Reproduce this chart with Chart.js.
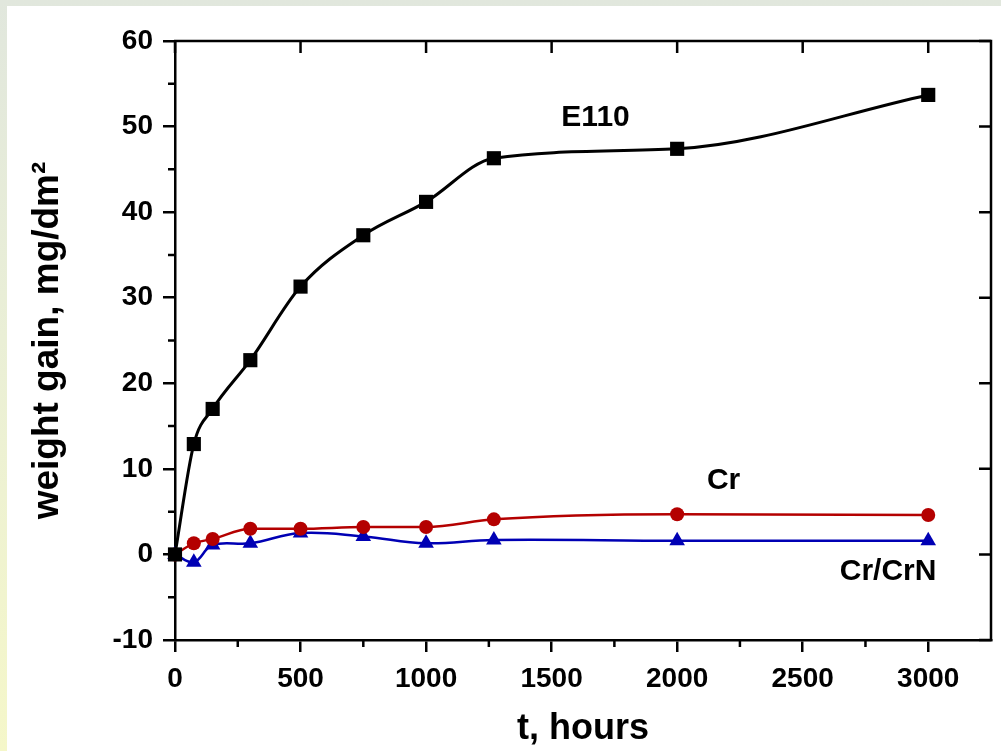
<!DOCTYPE html>
<html>
<head>
<meta charset="utf-8">
<script src="https://cdn.jsdelivr.net/npm/chart.js@4.4.1/dist/chart.umd.min.js"></script>
<style>
html, body { margin: 0; padding: 0; }
body {
    width: 1001px; height: 751px; overflow: hidden; position: relative;
    background: linear-gradient(to bottom, #e1e7dd 0%, #eaefd6 45%, #f5f7c9 100%);
}
#panel { position: absolute; left: 7px; top: 6px; right: 0; bottom: 0; background: #fff; }
#chart { position: absolute; left: 0; top: 0; }
</style>
</head>
<body>
<div id="panel"></div>
<canvas id="chart" width="1001" height="751"></canvas>
<script>
// exposure time, hours
const hours = [0, 75, 150, 300, 500, 750, 1000, 1270, 2000, 3000];
// weight gain, mg/dm2
const e110 = [0, 12.9, 17.0, 22.7, 31.3, 37.3, 41.2, 46.3, 47.4, 53.7];
const cr = [0, 1.3, 1.8, 3.0, 3.0, 3.2, 3.2, 4.1, 4.7, 4.6];
const crCrN = [0, -0.9, 1.1, 1.3, 2.5, 2.1, 1.3, 1.7, 1.6, 1.6];

const xTickValues = [0, 500, 1000, 1500, 2000, 2500, 3000];
const yTickValues = [-10, 0, 10, 20, 30, 40, 50, 60];

const seriesNames = ['E110', 'Cr', 'Cr/CrN'];
// where the series names sit, in data units (hours, mg/dm2)
const nameSpots = [[1675, 51], [2185, 8.6], [2840, -2.0]];

const FONT = '"Liberation Sans", Arial, sans-serif';

function toPoints(ys) {
    return hours.map((h, i) => ({ x: h, y: ys[i] }));
}

// top/right frame, inward ticks there, and minor outward ticks
const framePlugin = {
    id: 'frame',
    beforeDatasetsDraw(chart) {
        const ctx = chart.ctx;
        const a = chart.chartArea;
        const xs = chart.scales.x;
        const ys = chart.scales.y;
        ctx.save();
        ctx.strokeStyle = '#000';
        ctx.lineWidth = 2.5;
        ctx.lineCap = 'butt';
        ctx.beginPath();
        ctx.moveTo(a.left - 1, a.top);
        ctx.lineTo(a.right, a.top);
        ctx.lineTo(a.right, a.bottom + 1);
        ctx.stroke();

        ctx.beginPath();
        for (let v = 0; v <= 3000; v += 250) {
            const px = xs.getPixelForValue(v);
            if (v % 500 === 0) {
                ctx.moveTo(px, a.top);
                ctx.lineTo(px, a.top + 12);
            } else {
                ctx.moveTo(px, a.bottom);
                ctx.lineTo(px, a.bottom + 7);
            }
        }
        for (let v = -10; v <= 60; v += 5) {
            const py = ys.getPixelForValue(v);
            if (v % 10 === 0) {
                ctx.moveTo(a.right, py);
                ctx.lineTo(a.right - 12, py);
            } else {
                ctx.moveTo(a.left, py);
                ctx.lineTo(a.left - 7, py);
            }
        }
        ctx.stroke();
        ctx.restore();
    },
    afterDraw(chart) {
        const ctx = chart.ctx;
        const xs = chart.scales.x;
        const ys = chart.scales.y;
        ctx.save();
        ctx.fillStyle = '#000';
        ctx.font = 'bold 30px ' + FONT;
        ctx.textAlign = 'center';
        ctx.textBaseline = 'middle';
        seriesNames.forEach((name, i) => {
            ctx.fillText(name, xs.getPixelForValue(nameSpots[i][0]), ys.getPixelForValue(nameSpots[i][1]));
        });
        ctx.restore();
    }
};

new Chart(document.getElementById('chart'), {
    type: 'line',
    data: {
        datasets: [
            {
                label: seriesNames[0],
                data: toPoints(e110),
                borderColor: '#000',
                backgroundColor: '#000',
                borderWidth: 3,
                pointStyle: 'rect',
                pointRadius: 10,
                pointBorderWidth: 0,
                cubicInterpolationMode: 'monotone',
                clip: false
            },
            {
                label: seriesNames[1],
                data: toPoints(cr),
                borderColor: '#b40000',
                backgroundColor: '#b40000',
                borderWidth: 2.5,
                pointStyle: 'circle',
                pointRadius: 7,
                pointBorderWidth: 0,
                cubicInterpolationMode: 'monotone',
                clip: false
            },
            {
                label: seriesNames[2],
                data: toPoints(crCrN),
                borderColor: '#0000b4',
                backgroundColor: '#0000b4',
                borderWidth: 2.5,
                pointStyle: 'triangle',
                pointRadius: 9,
                pointBorderWidth: 0,
                tension: 0.4,
                clip: false
            }
        ]
    },
    options: {
        responsive: false,
        animation: false,
        layout: { padding: { left: 0, top: 41, right: 9, bottom: 0 } },
        plugins: {
            legend: { display: false },
            tooltip: { enabled: false }
        },
        scales: {
            x: {
                type: 'linear',
                min: 0,
                max: 3250,
                afterFit(scale) { scale.height = 111; },
                afterBuildTicks(scale) { scale.ticks = xTickValues.map(v => ({ value: v })); },
                ticks: {
                    padding: 10,
                    color: '#000',
                    font: { family: FONT, size: 28, weight: 'bold' },
                    maxRotation: 0,
                    autoSkip: false,
                    callback: v => String(v)
                },
                grid: { display: true, drawOnChartArea: false, drawTicks: true, tickLength: 12, color: '#000', lineWidth: 2.5 },
                border: { display: true, color: '#000', width: 2.5 },
                title: {
                    display: true,
                    text: 't, hours',
                    color: '#000',
                    font: { family: FONT, size: 36, weight: 'bold' },
                    padding: { top: 0, bottom: 0 }
                }
            },
            y: {
                min: -10,
                max: 60,
                afterFit(scale) { scale.width = 175; },
                afterBuildTicks(scale) { scale.ticks = yTickValues.map(v => ({ value: v })); },
                ticks: {
                    padding: 10,
                    color: '#000',
                    font: { family: FONT, size: 28, weight: 'bold' },
                    autoSkip: false,
                    callback: v => String(v)
                },
                grid: { display: true, drawOnChartArea: false, drawTicks: true, tickLength: 12, color: '#000', lineWidth: 2.5 },
                border: { display: true, color: '#000', width: 2.5 },
                title: {
                    display: true,
                    text: 'weight gain, mg/dm²',
                    color: '#000',
                    font: { family: FONT, size: 37, weight: 'bold' },
                    padding: { top: 26, bottom: 0 }
                }
            }
        }
    },
    plugins: [framePlugin]
});
</script>
</body>
</html>
